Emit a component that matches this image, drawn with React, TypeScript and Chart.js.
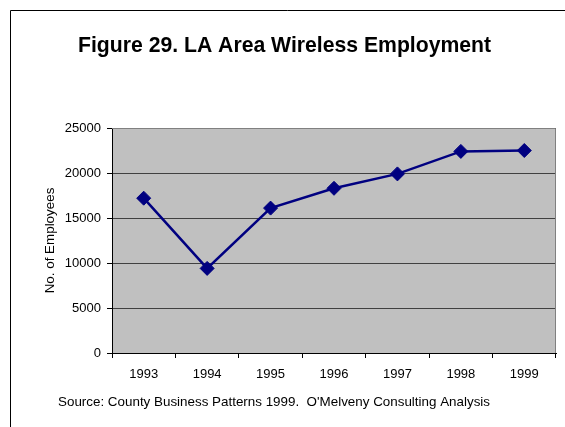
import React, { useEffect, useRef } from "react";
import { Chart, registerables } from "chart.js";

Chart.register(...registerables);

const years = ["1993", "1994", "1995", "1996", "1997", "1998", "1999"];
const employees = [17200, 9400, 16100, 18300, 19900, 22400, 22500];
const yMin = 0;
const yMax = 25000;
const yStep = 5000;
const titleText = "Figure 29. LA Area Wireless Employment";
const sourceText = "Source: County Business Patterns 1999.  O'Melveny Consulting Analysis";
const yAxisTitle = "No. of Employees";

const FONT = "'Liberation Sans', Arial, Helvetica, sans-serif";

const decor = {
  id: "decor",
  beforeDraw(chart: any) {
    const { ctx, chartArea: a, width, height } = chart;
    ctx.save();
    ctx.fillStyle = "#ffffff";
    ctx.fillRect(0, 0, width, height);
    ctx.fillStyle = "#c0c0c0";
    ctx.fillRect(a.left, a.top, a.right - a.left, a.bottom - a.top);
    ctx.restore();
  },
  beforeDatasetsDraw(chart: any) {
    const { ctx, chartArea: a } = chart;
    ctx.save();
    ctx.strokeStyle = "#808080";
    ctx.lineWidth = 1;
    ctx.beginPath();
    ctx.moveTo(a.left, a.top + 0.5);
    ctx.lineTo(a.right - 0.5, a.top + 0.5);
    ctx.lineTo(a.right - 0.5, a.bottom);
    ctx.stroke();
    ctx.restore();
  },
  afterDraw(chart: any) {
    const { ctx, width, height } = chart;
    ctx.save();
    ctx.strokeStyle = "#000000";
    ctx.lineWidth = 1;
    ctx.beginPath();
    ctx.moveTo(10.5, height);
    ctx.lineTo(10.5, 10.5);
    ctx.lineTo(width, 10.5);
    ctx.stroke();

    ctx.fillStyle = "#000000";
    ctx.textAlign = "left";
    ctx.textBaseline = "alphabetic";
    ctx.font = `bold 21.2px ${FONT}`;
    ctx.fillText(titleText, 78, 52);
    ctx.font = `13.4px ${FONT}`;
    ctx.fillText(sourceText, 58, 406);
    ctx.restore();
  },
};

export default function App() {
  const ref = useRef<HTMLCanvasElement | null>(null);

  useEffect(() => {
    if (!ref.current) return;
    const chart = new Chart(ref.current, {
      type: "line",
      data: {
        labels: years,
        datasets: [
          {
            data: employees,
            borderColor: "#000080",
            backgroundColor: "#000080",
            borderWidth: 2.5,
            pointStyle: "rectRot",
            pointRadius: 7,
            pointBorderWidth: 1,
            pointBackgroundColor: "#000080",
            pointBorderColor: "#000080",
            tension: 0,
          },
        ],
      },
      options: {
        responsive: false,
        animation: false,
        devicePixelRatio: 1,
        layout: { padding: { top: 128, right: 9, bottom: 0, left: 0 } },
        plugins: {
          legend: { display: false },
          tooltip: { enabled: false },
        },
        scales: {
          x: {
            type: "category",
            offset: true,
            grid: {
              offset: true,
              drawOnChartArea: false,
              drawTicks: true,
              tickLength: 5,
              tickColor: "#000000",
            },
            border: { color: "#000000", width: 1 },
            ticks: {
              color: "#000000",
              font: { family: FONT, size: 13 },
              padding: 9,
              maxRotation: 0,
            },
            afterFit(scale: any) {
              scale.height = 427 - 353;
            },
          },
          y: {
            min: yMin,
            max: yMax,
            grid: {
              color: "#404040",
              lineWidth: 1,
              tickLength: 5,
              tickColor: "#000000",
            },
            border: { color: "#000000", width: 1 },
            ticks: {
              stepSize: yStep,
              color: "#000000",
              font: { family: FONT, size: 13 },
              padding: 6,
              callback: (v: any) => String(v),
            },
            title: {
              display: true,
              text: yAxisTitle,
              color: "#000000",
              font: { family: FONT, size: 13.4 },
              padding: { top: 42, bottom: 0 },
            },
            afterFit(scale: any) {
              scale.width = 112;
            },
          },
        },
      },
      plugins: [decor],
    });
    return () => chart.destroy();
  }, []);

  return (
    <div style={{ position: "absolute", left: 0, top: 0, width: 565, height: 427 }}>
      <canvas ref={ref} width={565} height={427} style={{ display: "block" }} />
    </div>
  );
}
